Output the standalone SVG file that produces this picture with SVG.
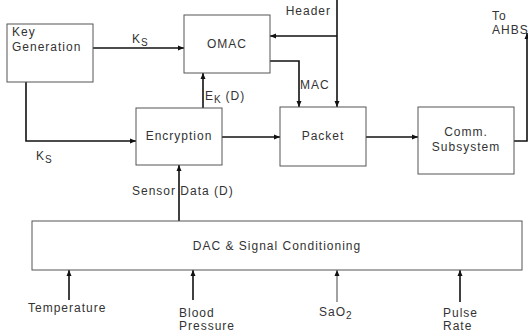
<svg xmlns="http://www.w3.org/2000/svg" width="528" height="334" viewBox="0 0 528 334">
<style>
.box{fill:#fff;stroke:#555;stroke-width:1}
.t{font-family:"Liberation Sans",Arial,sans-serif;font-size:12px;fill:#333;letter-spacing:1px}
.s{font-size:10px;letter-spacing:0.5px}
.c{fill:none;stroke:#111;stroke-width:1.6}
.thin{stroke:#444;stroke-width:1}
</style>
<defs>
<marker id="ah" viewBox="0 0 6 6" refX="6" refY="3" markerWidth="6" markerHeight="6" markerUnits="userSpaceOnUse" orient="auto">
<path d="M0,0.5 L6,3 L0,5.5 Z" fill="#111"/>
</marker>
</defs>
<rect width="528" height="334" fill="#fff"/>
<g id="connectors">
<path class="c" d="M93,48 H184" marker-end="url(#ah)"/>
<path class="c" d="M26,82 V141 H136" marker-end="url(#ah)"/>
<path class="c" d="M203,108 V73" marker-end="url(#ah)"/>
<path class="c" d="M222,137 H280" marker-end="url(#ah)"/>
<path class="c" d="M337,0 V107" marker-end="url(#ah)"/>
<path class="c" d="M337,36 H270" marker-end="url(#ah)"/>
<path class="c" d="M270,61 H299 V107" marker-end="url(#ah)"/>
<path class="c" d="M366,137 H418" marker-end="url(#ah)"/>
<path class="c" d="M514,141 H527 V33" marker-end="url(#ah)"/>
<path class="c" d="M179,221 V165" marker-end="url(#ah)"/>
<path class="c" d="M69,300 V270" marker-end="url(#ah)"/>
<path class="c" d="M193,300 V270" marker-end="url(#ah)"/>
<path class="c thin" d="M337,302 V270" marker-end="url(#ah)"/>
<path class="c" d="M460,302 V270" marker-end="url(#ah)"/>
<text class="t" x="132" y="43">K<tspan class="s" dy="3">S</tspan></text>
<text class="t" x="36" y="160">K<tspan class="s" dy="3">S</tspan></text>
<text class="t" x="205" y="100">E<tspan class="s" dy="3">K</tspan><tspan dy="-3"> (D)</tspan></text>
<text class="t" x="331" y="15" text-anchor="end">Header</text>
<text class="t" x="300" y="89">MAC</text>
<text class="t" x="132" y="195">Sensor Data (D)</text>
<text class="t" x="492" y="20">To</text>
<text class="t" x="492" y="34">AHBS</text>
</g>
<g id="keygen">
<rect class="box" x="7" y="24" width="86" height="58"/>
<text class="t" x="12" y="36">Key</text>
<text class="t" x="12" y="51">Generation</text>
</g>
<g id="omac">
<rect class="box" x="184" y="15" width="86" height="58"/>
<text class="t" x="227" y="48" text-anchor="middle">OMAC</text>
</g>
<g id="encryption">
<rect class="box" x="136" y="108" width="86" height="57"/>
<text class="t" x="179" y="140" text-anchor="middle">Encryption</text>
</g>
<g id="packet">
<rect class="box" x="280" y="107" width="86" height="59"/>
<text class="t" x="323" y="140" text-anchor="middle">Packet</text>
</g>
<g id="comm">
<rect class="box" x="418" y="107" width="96" height="67"/>
<text class="t" x="466" y="136" text-anchor="middle">Comm.</text>
<text class="t" x="466" y="151" text-anchor="middle">Subsystem</text>
</g>
<g id="dac">
<rect class="box" x="32" y="221" width="490" height="49"/>
<text class="t" x="277" y="250" text-anchor="middle">DAC &amp; Signal Conditioning</text>
</g>
<g id="sensors">
<text class="t" x="28" y="312">Temperature</text>
<text class="t" x="179" y="317">Blood</text>
<text class="t" x="179" y="330">Pressure</text>
<text class="t" x="319" y="316">SaO<tspan class="s" dy="3">2</tspan></text>
<text class="t" x="443" y="317">Pulse</text>
<text class="t" x="443" y="330">Rate</text>
</g>
</svg>
